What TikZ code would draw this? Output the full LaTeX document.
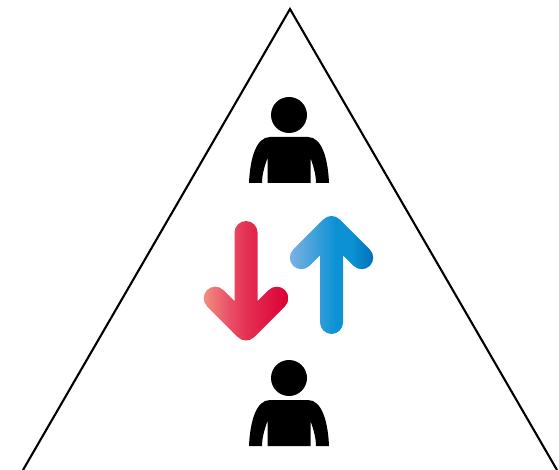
\documentclass[tikz,border=0pt]{standalone}
\definecolor{redA}{HTML}{F28E80}
\definecolor{redB}{HTML}{E95068}
\definecolor{redC}{HTML}{E42C50}
\definecolor{redD}{HTML}{DC0037}
\definecolor{bluA}{HTML}{7CB2E2}
\definecolor{bluB}{HTML}{3FA0DA}
\definecolor{bluC}{HTML}{0C92D4}
\definecolor{bluD}{HTML}{0070BA}
\pgfdeclarehorizontalshading{redgrad}{100bp}{color(0bp)=(redA); color(25bp)=(redA); color(40bp)=(redB); color(52bp)=(redC); color(75bp)=(redD); color(100bp)=(redD)}
\pgfdeclarehorizontalshading{blugrad}{100bp}{color(0bp)=(bluA); color(25bp)=(bluA); color(40bp)=(bluB); color(52bp)=(bluC); color(62bp)=(bluC); color(75bp)=(bluD); color(100bp)=(bluD)}
\tikzset{tri/.style={draw=black,line width=2.1pt,line join=miter},
  personfill/.style={fill=black,draw=none}}
% #1 arm reach, #2 shaft length, #3 shading
\newcommand{\gradarrow}[3]{%
  \begin{scope}
    \clip (11.5,-#2) -- (11.5,-27.76) -- ({#1-8.13},{-#1-8.13})
      arc[start angle=225,end angle=405,radius=11.5]
      -- (8.13,8.13) arc[start angle=45,end angle=135,radius=11.5]
      -- ({-#1-8.13},{-#1+8.13})
      arc[start angle=135,end angle=315,radius=11.5]
      -- (-11.5,-27.76) -- (-11.5,-#2)
      arc[start angle=180,end angle=360,radius=11.5] -- cycle;
    \shade[shading=#3]
      ({-#1-11.5},{-#2-12}) rectangle ({#1+11.5},12);
  \end{scope}}
\newcommand{\person}{%
  \fill[personfill] (0,68) circle[radius=18];
  \fill[personfill] (-40,0) .. controls (-39,24) and (-33,46) .. (-19,46)
    -- (19,46) .. controls (33,46) and (39,24) .. (40,0)
    -- (27,0) .. controls (27,9) and (24,18) .. (21.5,25)
    -- (21.5,0) -- (-21.5,0) -- (-21.5,25)
    .. controls (-24,18) and (-27,9) .. (-27,0) -- cycle;}
\begin{document}
\begin{tikzpicture}[x=1pt,y=1pt]
\useasboundingbox (0,0) rectangle (559,469);
\begin{scope}
  \clip (0,0) rectangle (559,469);
  \draw[tri] (23,-1) -- (290,460) -- (557,-1);
\end{scope}
\begin{scope}[shift={(289,286)}]\person\end{scope}
\begin{scope}[shift={(289,23)}]\person\end{scope}
\begin{scope}[shift={(246,140)},yscale=-1]\gradarrow{30.8}{96.5}{redgrad}\end{scope}
\begin{scope}[shift={(331.5,241.5)}]\gradarrow{30.2}{95}{blugrad}\end{scope}
\end{tikzpicture}
\end{document}
